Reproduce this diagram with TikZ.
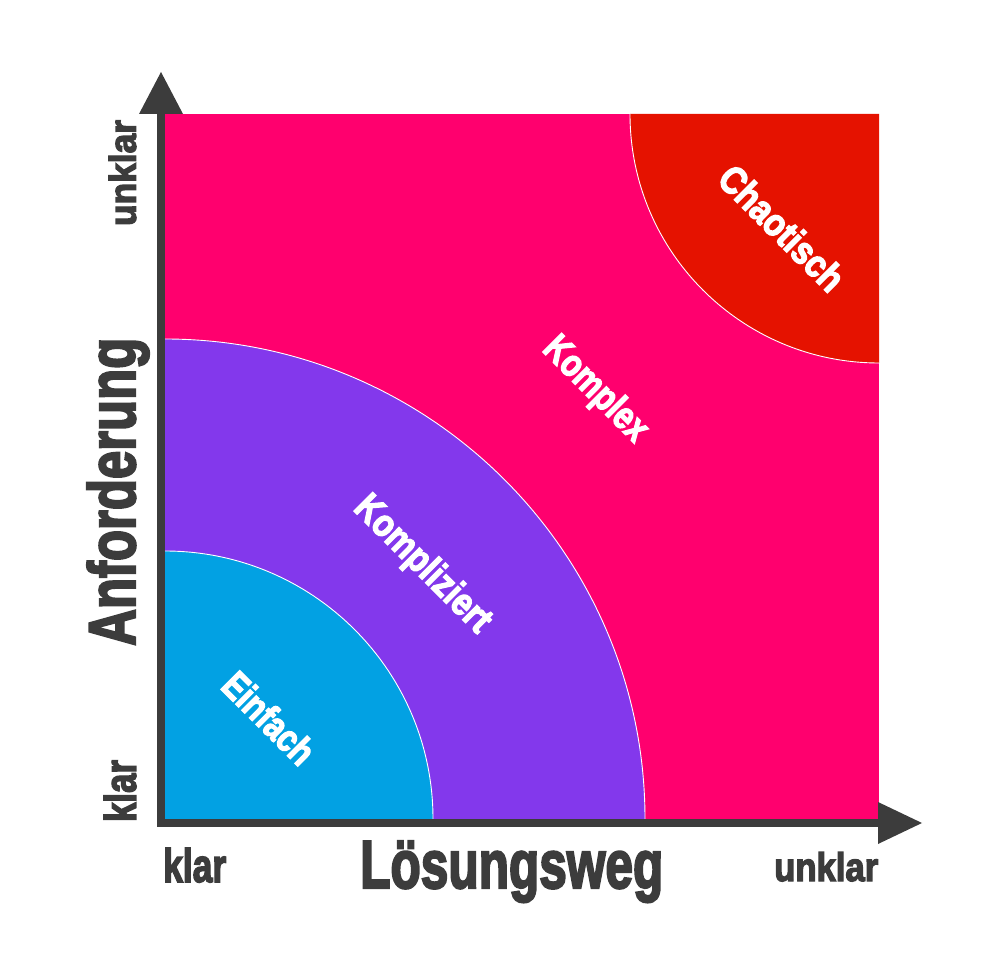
\documentclass[tikz,border=0pt]{standalone}
\usepackage{fontspec}
\usepackage{graphicx}
\newfontfamily\imp[BoldFeatures={FakeBold=3.5}]{Liberation Sans}
\definecolor{axisgray}{HTML}{3C3C3C}
\definecolor{cpink}{HTML}{FF006E}
\definecolor{cpurple}{HTML}{8338EC}
\definecolor{cblue}{HTML}{02A1E3}
\definecolor{cred}{HTML}{E51200}
\newcommand{\fitlbl}[3]{\resizebox{#1pt}{#2pt}{\imp\bfseries #3}}
\tikzset{
  axisline/.style={draw=axisgray, line width=8pt, line join=miter},
  axistip/.style={fill=axisgray},
  axislbl/.style={text=axisgray, inner sep=0pt},
  zonelbl/.style={text=white, inner sep=0pt, rotate=-45},
  zoneedge/.style={draw=white, line width=0.9pt}
}
\begin{document}
\begin{tikzpicture}[x=1pt,y=-1pt]
\useasboundingbox (0,0) rectangle (997,973);
% zones
\fill[cpink] (165,114) rectangle (879,819);
\fill[cred] (879,114) -- (630,114) arc[start angle=180,end angle=90,radius=249] -- cycle;
\draw[zoneedge] (630,114) arc[start angle=180,end angle=90,radius=249];
\fill[cpurple] (165,819) -- (645,819) arc[start angle=0,end angle=-90,radius=480] -- cycle;
\draw[zoneedge] (645,819) arc[start angle=0,end angle=-90,radius=480];
\fill[cblue] (165,819) -- (433,819) arc[start angle=0,end angle=-90,radius=268] -- cycle;
\draw[zoneedge] (433,819) arc[start angle=0,end angle=-90,radius=268];
% axes
\coordinate (O) at (161,823);
\coordinate (ytop) at (161,114);
\coordinate (xend) at (878,823);
\draw[axisline] (ytop) -- (O) -- (xend);
\fill[axistip] (139,114) -- (161,72) -- (183,114) -- cycle;
\fill[axistip] (878,802) -- (922,823) -- (878,844) -- cycle;
% axis labels
\node[axislbl, rotate=90, anchor=center] (yunk) at (122.5,173) {\fitlbl{106}{27}{unklar}};
\node[axislbl, rotate=90, anchor=center] (ykl) at (120,791) {\fitlbl{62}{32}{klar}};
\node[axislbl, rotate=90, anchor=base west] (ytitle) at (135,646) {\fitlbl{308}{48}{Anforderung}};
\node[axislbl, anchor=base west] (xkl) at (163,882) {\fitlbl{63}{34}{klar}};
\node[axislbl, anchor=base west] (xunk) at (774,881) {\fitlbl{104}{29}{unklar}};
\node[axislbl, anchor=base west] (xtitle) at (360,888) {\fitlbl{303}{47}{Lösungsweg}};
% zone labels
\node[zonelbl] (ein) at (269,718) {\fitlbl{113}{28}{Einfach}};
\node[zonelbl] (kompl) at (422,565) {\fitlbl{177}{28}{Kompliziert}};
\node[zonelbl] (komplex) at (595,390) {\fitlbl{132}{28}{Komplex}};
\node[zonelbl] (chaos) at (782,228) {\fitlbl{160}{28}{Chaotisch}};
\end{tikzpicture}
\end{document}
